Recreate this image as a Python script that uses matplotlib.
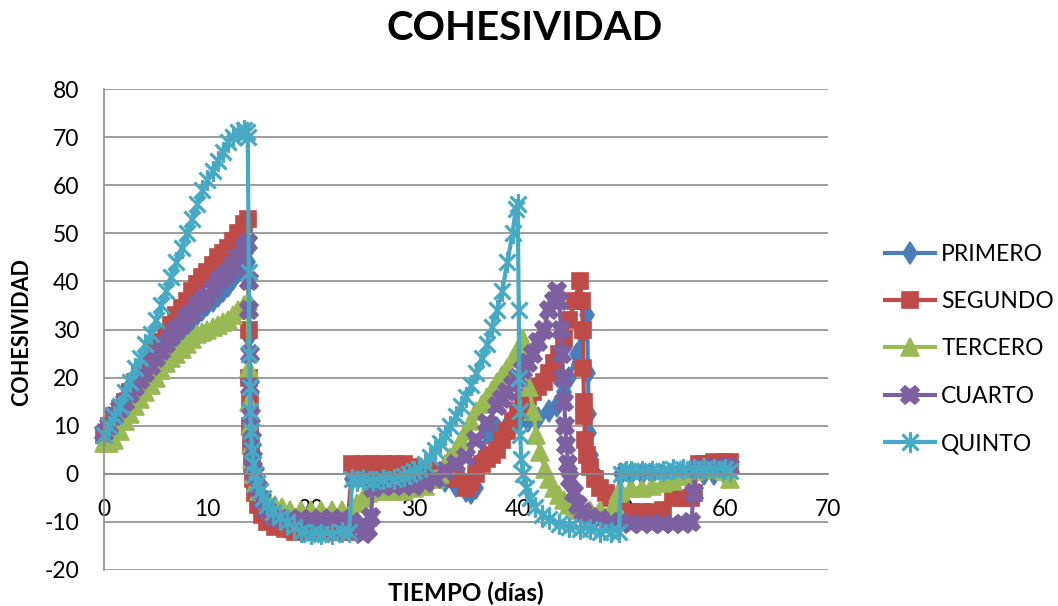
import matplotlib

matplotlib.use("Agg")
from matplotlib import pyplot as plt
from matplotlib.path import Path

# days / cohesividad, one pair of lists per series
primero_t = [0, 0.5, 1, 1.5, 2, 2.5, 3, 3.5, 4, 4.5, 5, 5.5, 6, 6.5, 7, 7.5, 8, 8.5, 9, 9.5, 10, 10.5, 11, 11.5, 12, 12.5, 13, 13.5, 13.9,
             14.0, 14.05, 14.1, 14.15, 14.2, 14.3, 14.45, 14.7, 15, 15.5, 16, 16.7, 17.5, 18.5, 20, 22, 23.5,
             24, 25, 26, 27, 28, 29, 30, 31, 32, 33, 34, 35, 35.5, 36, 36.5, 37, 37.5, 38, 39, 40, 41, 42, 43, 43.8, 44.5, 45, 45.7, 46.2, 46.7,
             46.8, 46.85, 46.9, 47.1, 47.5, 48, 48.5, 49, 49.5, 50, 51, 52, 53, 54, 55, 56, 57, 58, 59, 60]
primero_y = [8, 9.5, 11, 12.5, 14, 15.5, 17, 18.5, 20, 21.5, 23, 24.5, 26, 27, 28.5, 29.5, 31, 32, 33, 34, 35, 36, 37, 38, 39, 40.5, 42, 43.5, 44,
             35, 28.5, 20, 14, 9, 5, 1, -2, -4.5, -7, -8.5, -10, -11, -11.5, -11.5, -11.5, -11.5,
             -1, -0.5, 0, 0, 0, 0, 0, 0, -0.5, -1.5, -2.5, -3.5, -4, -3, 3, 8.5, 9, 9.5, 10, 10.5, 11, 11.5, 13, 14, 17, 20, 25, 29, 33,
             21, 12.5, 8.5, 4, 0, -2.5, -4, -5, -5.5, 0, 0, 0, 0, 0, 0, 0, 0, 0, 0, 0]

segundo_t = [0, 0.5, 1, 1.5, 2, 2.5, 3, 3.5, 4, 4.5, 5, 5.5, 6, 6.5, 7, 7.5, 8, 8.5, 9, 9.5, 10, 10.5, 11, 11.5, 12, 12.5, 13, 13.5, 13.9,
             14.0, 14.05, 14.1, 14.15, 14.2, 14.3, 14.4, 14.6, 14.9, 15.3, 15.8, 16.5, 17.5, 18.5, 20, 22, 23.5,
             24, 25, 26, 27, 28, 29, 30, 31, 32, 33, 34, 35, 35.5, 36, 36.5, 37, 37.5, 38, 38.5, 39, 39.5, 40, 40.5, 41, 41.5, 42, 42.5, 43, 43.5, 44, 44.5, 45, 45.5, 46,
             46.2, 46.3, 46.35, 46.4, 46.45, 46.5, 46.7, 47, 47.5, 48, 48.5, 49, 49.5, 50, 51, 52, 53, 54, 55, 56, 56.8, 57, 57.5, 58, 59, 60, 60.5]
segundo_y = [8, 10, 12, 13.5, 15, 17, 19, 20.5, 22, 24, 26, 27.5, 29, 31, 33, 34.5, 36, 38, 39.5, 41, 42, 43.5, 45, 46, 47, 48.5, 50, 52, 53,
             30, 20, 15, 10, 6, 2, -1, -4, -6.5, -8.5, -10, -11, -11.5, -12, -12, -12, -12,
             2, 2, 2, 2, 2, 2, 1.5, 1, 0.5, 0, -1, -3, -2, 0, 2, 3, 4, 5, 7, 9, 11, 13, 15, 16, 17, 18, 19, 21, 23, 25, 28, 32, 36, 40,
             36, 30, 22, 15, 12, 7, 4, 1.5, -1, -3, -4, -5, -6, -7, -8, -8, -8, -7.5, -5, -5, -5, -4, 2, 2, 2.5, 2.5, 2.5]

tercero_t = [0, 0.5, 1, 1.5, 2, 2.5, 3, 3.5, 4, 4.5, 5, 5.5, 6, 6.5, 7, 7.5, 8, 8.5, 9, 9.5, 10, 10.5, 11, 11.5, 12, 12.5, 13, 13.5, 13.9,
             14.0, 14.05, 14.1, 14.2, 14.3, 14.5, 14.7, 15, 15.4, 15.9, 16.5, 17.2, 18, 19, 20, 21, 22, 23, 24, 24.5, 25, 25.5, 26, 27, 28, 29, 30, 31,
             32, 32.5, 33, 33.5, 34, 34.5, 35, 35.5, 36, 36.5, 37, 37.5, 38, 38.5, 39, 39.5, 40, 40.5,
             40.8, 41.1, 41.5, 41.8, 42.2, 42.6, 43, 43.5, 44, 44.5, 45, 45.5, 46, 47, 48, 49, 49.5, 49.7, 50, 51, 52, 53, 54, 55, 56, 57, 58, 59, 60, 60.5]
tercero_y = [6.5, 6.5, 7, 9, 11, 12.5, 14, 15.5, 17, 18.5, 20, 21.5, 23, 24, 25, 26, 27, 28, 29, 29.5, 30, 30.5, 31, 31.5, 32, 33, 34, 35, 36,
             22, 15, 10, 6, 3, 0, -2, -3.5, -4.5, -5.5, -6.5, -7, -7.5, -7.5, -7.5, -7.5, -7.5, -7.5, -7.5, -6, -5, -4, -3.5, -3.5, -3.5, -3.5, -3, -2.5,
             -1, 0, 2, 3.5, 5, 7, 9, 11, 13, 14.5, 16, 17.5, 19, 20.5, 22, 24, 26, 28,
             24, 18, 13, 8, 4.5, 1, -1, -3, -4.5, -5.5, -6.5, -7, -7.5, -7.5, -7.5, -7.5, -7, -4, -3.5, -3, -3, -2.5, -2, -1.5, -0.5, 0.5, 1.5, 1, 0.5, -1]

cuarto_t = [0, 0.5, 1, 1.5, 2, 2.5, 3, 3.5, 4, 4.5, 5, 5.5, 6, 6.5, 7, 7.5, 8, 8.5, 9, 9.5, 10, 10.5, 11, 11.5, 12, 12.5, 13, 13.5, 13.9,
            14.0, 14.05, 14.1, 14.15, 14.2, 14.3, 14.4, 14.6, 14.9, 15.3, 15.8, 16.4, 17, 18, 19, 20, 21, 22, 23, 24, 24.5, 25, 25.5, 25.8, 26, 27, 28, 29, 30, 31,
            32, 33, 34, 35, 36, 37, 38, 38.5, 39, 39.5, 40, 40.5, 41, 41.5, 42, 42.5, 43, 43.5, 43.8,
            44, 44.2, 44.3, 44.4, 44.5, 44.6, 44.7, 44.9, 45.1, 45.4, 45.8, 46.3, 47, 48, 49, 50, 51, 52, 53, 54, 55, 56, 56.8, 57, 57.2, 58, 59, 60, 60.5]
cuarto_y = [8.5, 10, 12, 13.5, 15, 16.5, 18, 19.5, 21, 22.5, 24, 25.5, 27, 28.5, 30, 31, 32.5, 33.5, 35, 36, 37, 38.5, 40, 41, 42, 43.5, 45, 47, 48,
            40, 34, 25, 18, 12, 7, 3, 0, -3, -5.5, -7.5, -9, -9.5, -9.5, -9.5, -9.5, -9.5, -9.5, -9.5, -10, -11, -12.5, -11.5, -9, -3, -2.5, -2.5, -2.5, -2.5, -2,
            -1, 0.5, 2, 3.5, 7, 10.5, 14, 15.5, 17, 18.5, 20, 21.5, 23, 25, 27.5, 30, 34, 36, 38,
            36, 30, 25, 20, 15, 10, 6, 2, -1, -4, -6.5, -8, -9, -9.5, -10, -10, -10.5, -10.5, -10.5, -10.5, -10.5, -10.5, -10, -4, 1, 1.5, 1.5, 1.5, 1.5]

quinto_t = [0, 0.5, 1, 1.5, 2, 2.5, 3, 3.5, 4, 4.5, 5, 5.5, 6, 6.5, 7, 7.5, 8, 8.5, 9, 9.5, 10, 10.5, 11, 11.5, 12, 12.5, 13, 13.5, 13.8, 13.9,
            14.0, 14.05, 14.1, 14.15, 14.2, 14.3, 14.45, 14.6, 14.8, 15.1, 15.4, 15.8, 16.3, 17, 17.7, 18.4, 19, 20, 21, 22, 23, 23.7,
            24, 24.5, 25, 26, 27, 28, 29, 29.5, 30, 30.5, 31, 31.5, 32, 32.5, 33, 33.5, 34, 34.5, 35, 35.5, 36, 36.5, 37, 37.5, 38, 38.5, 39, 39.5, 39.8, 40.0,
            40.1, 40.15, 40.2, 40.25, 40.35, 40.5, 40.8, 41.2, 41.7, 42.3, 43, 44, 45, 46, 47, 48, 49, 49.8,
            50, 50.5, 51, 52, 53, 54, 55, 56, 57, 58, 59, 60, 60.5]
quinto_y = [8, 10, 12, 14, 17, 19, 22, 24, 27, 29, 32, 35, 38, 41, 44, 47, 50, 53, 56, 59, 61, 63, 65, 67, 69, 70, 71, 71.5, 71, 70,
            42, 25, 18, 13, 9, 5, 2, 0, -2, -3.5, -5, -6.5, -8, -9, -10, -11, -12, -12.5, -12.5, -12.5, -12, -12,
            -1, -1.5, -1, -1.5, -1, -1, -0.5, 0, 0.5, 1, 2, 3.5, 5, 6.5, 8, 10, 12, 14, 16, 18.5, 21, 24, 27, 30.5, 34, 38, 44, 50, 55, 56,
            34, 20, 13, 8, 3, 0, -3, -5, -7, -8.5, -9.5, -10.5, -11, -11.5, -11.5, -12, -12, -12,
            0, 0.5, 0.5, 0.5, 0.5, 0.5, 1, 1, 1, 1, 1, 1, 0.5]

labels = ["PRIMERO", "SEGUNDO", "TERCERO", "CUARTO", "QUINTO"]
x_ticks = [0, 10, 20, 30, 40, 50, 60, 70]
y_ticks = [-20, -10, 0, 10, 20, 30, 40, 50, 60, 70, 80]

# excel style asterisk: an x with a vertical bar through it
STAR = Path(
    [(-1, -1), (1, 1), (-1, 1), (1, -1), (0, -1.3), (0, 1.3)],
    [Path.MOVETO, Path.LINETO] * 3,
)

GRID = "#8c8c8c"


def draw_plot():
    plt.rcParams["font.family"] = ["Lato", "DejaVu Sans"]
    plt.rcParams["axes.unicode_minus"] = False
    fig = plt.figure(figsize=(10.58, 6.06), dpi=100)
    ax = fig.add_axes([104 / 1058, 36 / 606, 724 / 1058, 481 / 606])

    series = [
        (primero_t, primero_y, "#4A7EBB", "d", 11.5, 1.2),
        (segundo_t, segundo_y, "#BE4B48", "s", 12, 1.2),
        (tercero_t, tercero_y, "#98B954", "^", 13, 1.2),
        (cuarto_t, cuarto_y, "#7D60A0", "X", 13, 1.2),
        (quinto_t, quinto_y, "#46AAC5", STAR, 15, 2.3),
    ]
    for (t, y, color, marker, ms, mew), label in zip(series, labels):
        ax.plot(t, y, color=color, lw=3, marker=marker, ms=ms,
                mfc=color, mec=color, mew=mew, label=label, clip_on=False)

    ax.set_xlim(0, 70)
    ax.set_ylim(-20, 80)
    ax.set_xticks(x_ticks)
    ax.set_yticks(y_ticks)
    ax.yaxis.grid(True, color=GRID, lw=1.2)
    ax.set_axisbelow(True)

    for side in ("top", "right"):
        ax.spines[side].set_visible(False)
    ax.spines["left"].set_color(GRID)
    ax.spines["left"].set_linewidth(1.2)
    ax.spines["bottom"].set_position(("data", 0))
    ax.spines["bottom"].set_color(GRID)
    ax.spines["bottom"].set_linewidth(1.2)

    ax.tick_params(axis="both", length=0, labelsize=16.5)
    ax.tick_params(axis="y", pad=18)
    ax.tick_params(axis="x", pad=18)

    ax.set_xlabel("TIEMPO (días)", fontsize=17.5, fontweight="bold")
    ax.xaxis.set_label_coords(0.5, -0.024)
    ax.set_ylabel("COHESIVIDAD", fontsize=15.5, fontweight="bold")
    ax.yaxis.set_label_coords(-0.0995, 0.495)

    fig.text(525 / 1058, 1 - 29 / 606, "COHESIVIDAD", ha="center", va="center",
             fontsize=29, fontweight="bold")

    fig.legend(loc="center left", bbox_to_anchor=(885 / 1058, 1 - 349 / 606),
               frameon=False, fontsize=16.5, handlelength=2.2, handletextpad=0.25,
               labelspacing=1.15, borderpad=0, borderaxespad=0, numpoints=1)

    fig.savefig("out.png", dpi=100)


if __name__ == "__main__":
    draw_plot()
